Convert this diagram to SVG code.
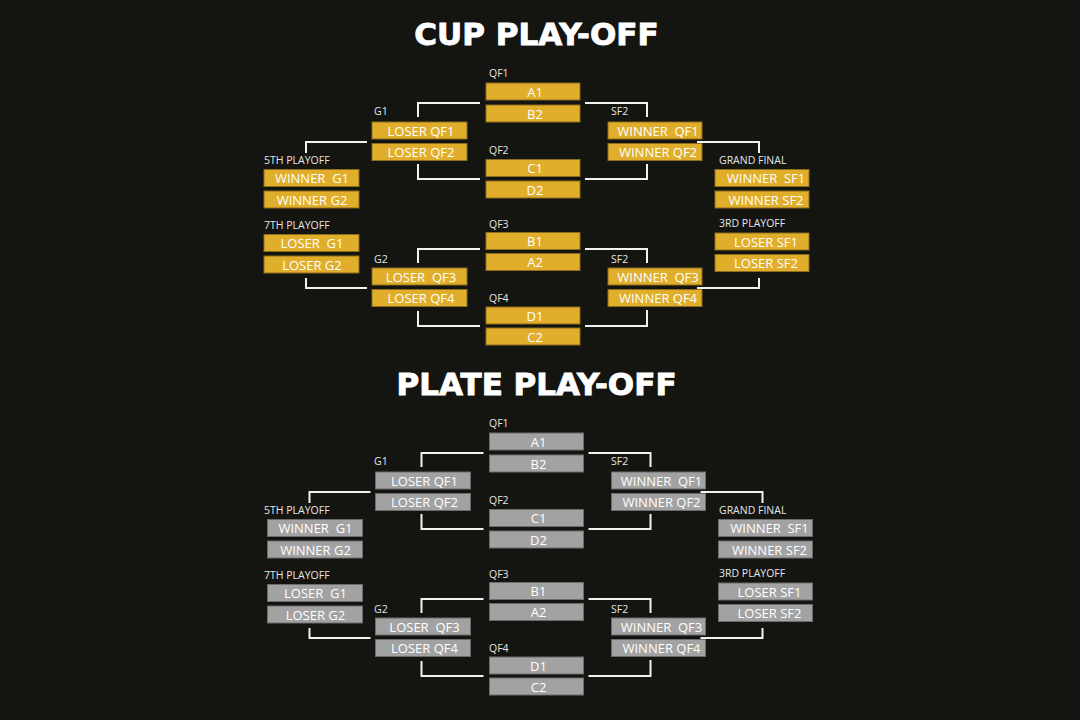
<svg xmlns="http://www.w3.org/2000/svg" width="1080" height="720" viewBox="0 0 1080 720">
<style>
.bg{fill:#141411}
.title{font-family:"DejaVu Sans",sans-serif;font-weight:bold;font-size:31px;fill:#ffffff;stroke:#ffffff;stroke-width:0.9;text-anchor:middle}
.lbl{font-family:"Open Sans",sans-serif;font-size:10.5px;fill:#e6e6e6}
.t{font-family:"Open Sans",sans-serif;font-size:13px;fill:#ffffff;text-anchor:middle}
.cup rect{fill:#e0ae2b;stroke:#8c6d1e;stroke-width:1}
.plate rect{fill:#a2a2a2;stroke:#6c6c6c;stroke-width:1}
.conn path{fill:none;stroke:#f2f2f2;stroke-width:2}
</style>
<rect class="bg" x="0" y="0" width="1080" height="720"/>
<text class="title" x="536.5" y="45">CUP PLAY-OFF</text>
<text class="title" x="536.5" y="395">PLATE PLAY-OFF</text>

<g id="cup-labels" class="lbl">
<text x="489" y="77">QF1</text>
<text x="489" y="154">QF2</text>
<text x="489" y="228">QF3</text>
<text x="489" y="302">QF4</text>
<text x="374" y="115">G1</text>
<text x="374" y="263">G2</text>
<text x="611" y="115">SF2</text>
<text x="611" y="263">SF2</text>
<text x="264" y="164">5TH PLAYOFF</text>
<text x="264" y="229">7TH PLAYOFF</text>
<text x="719" y="164">GRAND FINAL</text>
<text x="719" y="227">3RD PLAYOFF</text>
</g>

<g id="cup-connectors" class="conn">
<path d="M480,103 H418 V117"/>
<path d="M418,164 V179 H480"/>
<path d="M480,249 H418 V263"/>
<path d="M418,311 V326 H480"/>
<path d="M585,103 H647 V117"/>
<path d="M647,164 V179 H585"/>
<path d="M585,249 H647 V263"/>
<path d="M647,310 V326 H585"/>
<path d="M367,142 H306 V153"/>
<path d="M306,278 V288 H367"/>
<path d="M697,142 H759 V153"/>
<path d="M759,278 V288 H697"/>
</g>

<g class="cup">
<g id="cup-qf1-a1"><rect x="486" y="83" width="94" height="17"/><text class="t" x="535" y="96.5">A1</text></g>
<g id="cup-qf1-b2"><rect x="486" y="105" width="94" height="17"/><text class="t" x="535" y="118.5">B2</text></g>
<g id="cup-qf2-c1"><rect x="486" y="159.5" width="94" height="17"/><text class="t" x="535" y="173">C1</text></g>
<g id="cup-qf2-d2"><rect x="486" y="181" width="94" height="17"/><text class="t" x="535" y="194.5">D2</text></g>
<g id="cup-qf3-b1"><rect x="486" y="232.5" width="94" height="17"/><text class="t" x="535" y="246">B1</text></g>
<g id="cup-qf3-a2"><rect x="486" y="253.5" width="94" height="17"/><text class="t" x="535" y="267">A2</text></g>
<g id="cup-qf4-d1"><rect x="486" y="307" width="94" height="17"/><text class="t" x="535" y="320.5">D1</text></g>
<g id="cup-qf4-c2"><rect x="486" y="328" width="94" height="17"/><text class="t" x="535" y="341.5">C2</text></g>

<g id="cup-g1-a"><rect x="372" y="122" width="95" height="17"/><text class="t" x="421" y="135.5">LOSER QF1</text></g>
<g id="cup-g1-b"><rect x="372" y="143.5" width="95" height="17"/><text class="t" x="421" y="157">LOSER QF2</text></g>
<g id="cup-g2-a"><rect x="372" y="268" width="95" height="17"/><text class="t" x="421" y="281.5" xml:space="preserve">LOSER  QF3</text></g>
<g id="cup-g2-b"><rect x="372" y="289.5" width="95" height="17"/><text class="t" x="421" y="303">LOSER QF4</text></g>

<g id="cup-sf1-a"><rect x="608" y="122" width="94" height="17"/><text class="t" x="658" y="135.5" xml:space="preserve">WINNER  QF1</text></g>
<g id="cup-sf1-b"><rect x="608" y="143.5" width="94" height="17"/><text class="t" x="658" y="157">WINNER QF2</text></g>
<g id="cup-sf2-a"><rect x="608" y="268" width="94" height="17"/><text class="t" x="658" y="281.5" xml:space="preserve">WINNER  QF3</text></g>
<g id="cup-sf2-b"><rect x="608" y="289.5" width="94" height="17"/><text class="t" x="658" y="303">WINNER QF4</text></g>

<g id="cup-5th-a"><rect x="264" y="169.5" width="95" height="17"/><text class="t" x="312" y="183" xml:space="preserve">WINNER  G1</text></g>
<g id="cup-5th-b"><rect x="264" y="191" width="95" height="17"/><text class="t" x="312" y="204.5">WINNER G2</text></g>
<g id="cup-7th-a"><rect x="264" y="234.5" width="95" height="17"/><text class="t" x="312" y="248" xml:space="preserve">LOSER  G1</text></g>
<g id="cup-7th-b"><rect x="264" y="256" width="95" height="17"/><text class="t" x="312" y="269.5">LOSER G2</text></g>

<g id="cup-gf-a"><rect x="715" y="169.5" width="94" height="17"/><text class="t" x="766" y="183" xml:space="preserve">WINNER  SF1</text></g>
<g id="cup-gf-b"><rect x="715" y="191" width="94" height="17"/><text class="t" x="766" y="204.5">WINNER SF2</text></g>
<g id="cup-3rd-a"><rect x="715" y="233" width="94" height="17"/><text class="t" x="766" y="246.5">LOSER SF1</text></g>
<g id="cup-3rd-b"><rect x="715" y="254.5" width="94" height="17"/><text class="t" x="766" y="268">LOSER SF2</text></g>
</g>

<g id="plate-labels" class="lbl">
<text x="489" y="427">QF1</text>
<text x="489" y="504">QF2</text>
<text x="489" y="578">QF3</text>
<text x="489" y="652">QF4</text>
<text x="374" y="465">G1</text>
<text x="374" y="613">G2</text>
<text x="611" y="465">SF2</text>
<text x="611" y="613">SF2</text>
<text x="264" y="514">5TH PLAYOFF</text>
<text x="264" y="579">7TH PLAYOFF</text>
<text x="719" y="514">GRAND FINAL</text>
<text x="719" y="577">3RD PLAYOFF</text>
</g>

<g id="plate-connectors" class="conn">
<path d="M483.5,453 H421.5 V467"/>
<path d="M421.5,514 V529 H483.5"/>
<path d="M483.5,599 H421.5 V613"/>
<path d="M421.5,661 V676 H483.5"/>
<path d="M588.5,453 H650.5 V467"/>
<path d="M650.5,514 V529 H588.5"/>
<path d="M588.5,599 H650.5 V613"/>
<path d="M650.5,660 V676 H588.5"/>
<path d="M370.5,492 H309.5 V503"/>
<path d="M309.5,628 V638 H370.5"/>
<path d="M700.5,492 H762.5 V503"/>
<path d="M762.5,628 V638 H700.5"/>
</g>

<g class="plate">
<g id="plate-qf1-a1"><rect x="489.5" y="433" width="94" height="17"/><text class="t" x="538.5" y="446.5">A1</text></g>
<g id="plate-qf1-b2"><rect x="489.5" y="455" width="94" height="17"/><text class="t" x="538.5" y="468.5">B2</text></g>
<g id="plate-qf2-c1"><rect x="489.5" y="509.5" width="94" height="17"/><text class="t" x="538.5" y="523">C1</text></g>
<g id="plate-qf2-d2"><rect x="489.5" y="531" width="94" height="17"/><text class="t" x="538.5" y="544.5">D2</text></g>
<g id="plate-qf3-b1"><rect x="489.5" y="582.5" width="94" height="17"/><text class="t" x="538.5" y="596">B1</text></g>
<g id="plate-qf3-a2"><rect x="489.5" y="603.5" width="94" height="17"/><text class="t" x="538.5" y="617">A2</text></g>
<g id="plate-qf4-d1"><rect x="489.5" y="657" width="94" height="17"/><text class="t" x="538.5" y="670.5">D1</text></g>
<g id="plate-qf4-c2"><rect x="489.5" y="678" width="94" height="17"/><text class="t" x="538.5" y="691.5">C2</text></g>

<g id="plate-g1-a"><rect x="375.5" y="472" width="95" height="17"/><text class="t" x="424.5" y="485.5">LOSER QF1</text></g>
<g id="plate-g1-b"><rect x="375.5" y="493.5" width="95" height="17"/><text class="t" x="424.5" y="507">LOSER QF2</text></g>
<g id="plate-g2-a"><rect x="375.5" y="618" width="95" height="17"/><text class="t" x="424.5" y="631.5" xml:space="preserve">LOSER  QF3</text></g>
<g id="plate-g2-b"><rect x="375.5" y="639.5" width="95" height="17"/><text class="t" x="424.5" y="653">LOSER QF4</text></g>

<g id="plate-sf1-a"><rect x="611.5" y="472" width="94" height="17"/><text class="t" x="661.5" y="485.5" xml:space="preserve">WINNER  QF1</text></g>
<g id="plate-sf1-b"><rect x="611.5" y="493.5" width="94" height="17"/><text class="t" x="661.5" y="507">WINNER QF2</text></g>
<g id="plate-sf2-a"><rect x="611.5" y="618" width="94" height="17"/><text class="t" x="661.5" y="631.5" xml:space="preserve">WINNER  QF3</text></g>
<g id="plate-sf2-b"><rect x="611.5" y="639.5" width="94" height="17"/><text class="t" x="661.5" y="653">WINNER QF4</text></g>

<g id="plate-5th-a"><rect x="267.5" y="519.5" width="95" height="17"/><text class="t" x="315.5" y="533" xml:space="preserve">WINNER  G1</text></g>
<g id="plate-5th-b"><rect x="267.5" y="541" width="95" height="17"/><text class="t" x="315.5" y="554.5">WINNER G2</text></g>
<g id="plate-7th-a"><rect x="267.5" y="584.5" width="95" height="17"/><text class="t" x="315.5" y="598" xml:space="preserve">LOSER  G1</text></g>
<g id="plate-7th-b"><rect x="267.5" y="606" width="95" height="17"/><text class="t" x="315.5" y="619.5">LOSER G2</text></g>

<g id="plate-gf-a"><rect x="718.5" y="519.5" width="94" height="17"/><text class="t" x="769.5" y="533" xml:space="preserve">WINNER  SF1</text></g>
<g id="plate-gf-b"><rect x="718.5" y="541" width="94" height="17"/><text class="t" x="769.5" y="554.5">WINNER SF2</text></g>
<g id="plate-3rd-a"><rect x="718.5" y="583" width="94" height="17"/><text class="t" x="769.5" y="596.5">LOSER SF1</text></g>
<g id="plate-3rd-b"><rect x="718.5" y="604.5" width="94" height="17"/><text class="t" x="769.5" y="618">LOSER SF2</text></g>
</g>
</svg>
